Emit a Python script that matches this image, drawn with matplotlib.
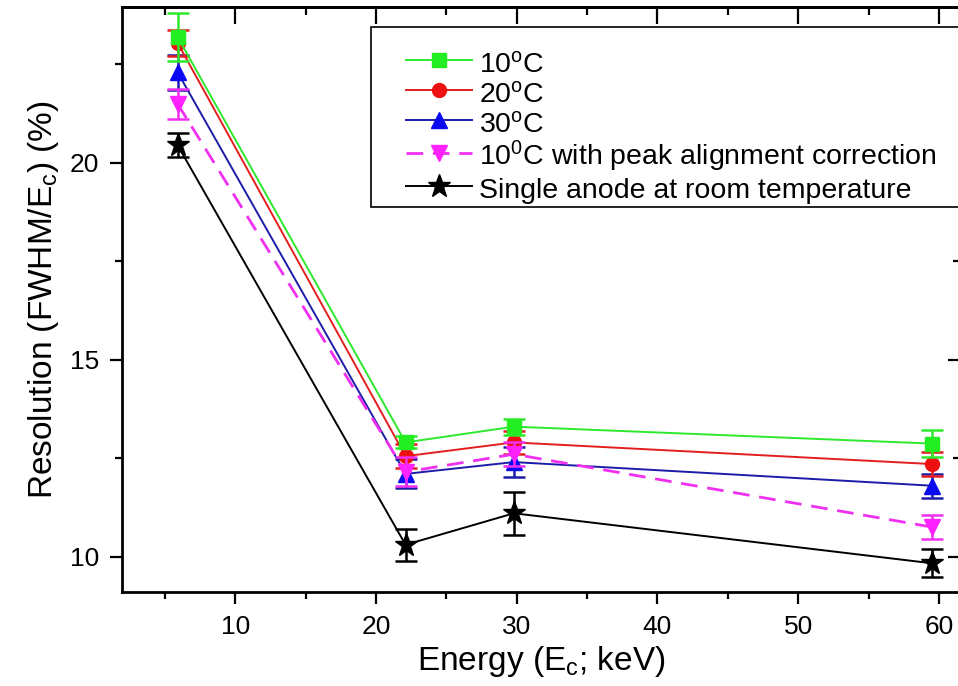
import matplotlib
matplotlib.use("Agg")
import matplotlib.pyplot as plt
from matplotlib.lines import Line2D
from matplotlib.patches import Rectangle

plt.rcParams['font.family'] = ['Liberation Sans', 'DejaVu Sans']
plt.rcParams['mathtext.fontset'] = 'custom'
plt.rcParams['mathtext.rm'] = 'Liberation Sans'
plt.rcParams['mathtext.it'] = 'Liberation Sans:italic'

energy = [5.9, 22.1, 29.8, 59.5]

res_10c = [23.2, 12.9, 13.3, 12.87]
err_10c = [0.6, 0.15, 0.2, 0.35]
res_20c = [23.05, 12.55, 12.9, 12.35]
err_20c = [0.33, 0.3, 0.3, 0.3]
res_30c = [22.3, 12.1, 12.4, 11.8]
err_30c = [0.45, 0.37, 0.38, 0.3]
res_10c_corr = [21.5, 12.15, 12.6, 10.75]
err_10c_corr = [0.38, 0.37, 0.3, 0.3]
res_single = [20.45, 10.3, 11.1, 9.83]
err_single = [0.3, 0.4, 0.55, 0.35]

labels = ['10$^{\\rm o}$C', '20$^{\\rm o}$C', '30$^{\\rm o}$C',
          '10$^{\\rm 0}$C with peak alignment correction',
          'Single anode at room temperature']

fig = plt.figure(figsize=(9.58, 6.86), dpi=100)
ax = fig.add_axes([122/958, 94/686, (960-122)/958, (592-7)/686])

# (values, errors, line colour, marker colour, marker, linestyle, lw, markersize, zorder)
series = [
    (res_10c, err_10c, '#2ee82e', '#22ee22', 's', '-', 1.4, 10, 5),
    (res_20c, err_20c, '#e41e1e', '#ee1111', 'o', '-', 1.4, 10, 4),
    (res_30c, err_30c, '#1c1ca8', '#0a0af0', '^', '-', 1.4, 11, 3),
    (res_10c_corr, err_10c_corr, '#f030f0', '#ff22ff', 'v', (0, (6, 3.5)), 2.0, 11, 6),
    (res_single, err_single, 'black', 'black', '*', '-', 1.4, 17, 1),
]
handles = []
for (y, e, c, mc, m, ls, lw, ms, z), lab in zip(series, labels):
    ax.errorbar(energy, y, yerr=e, color=c, marker=m, ls=ls, lw=lw,
                ms=ms, mfc=mc, mec=mc, capsize=8, capthick=1.8, elinewidth=1.8,
                ecolor=c, zorder=z)
    handles.append(Line2D([], [], color=c, marker=m, ls=ls, lw=lw, ms=ms,
                          mfc=mc, mec=mc, label=lab))

ax.set_xlim(1.95, 61.5)
ax.set_ylim(9.1, 23.96)
ax.set_xticks([10, 20, 30, 40, 50, 60])
ax.set_xticks([5, 15, 25, 35, 45, 55], minor=True)
ax.set_yticks([10, 15, 20])
ax.set_yticks([12.5, 17.5, 22.5], minor=True)
ax.tick_params(which='major', direction='out', length=8.5, width=1.6, labelsize=19, pad=8)
ax.tick_params(which='minor', direction='out', length=5, width=1.6)
for s in ax.spines.values():
    s.set_linewidth(2)

top = ax.secondary_xaxis('top')
top.set_xticks([10, 20, 30, 40, 50, 60])
top.set_xticks([5, 15, 25, 35, 45, 55], minor=True)
top.tick_params(which='major', direction='in', length=12, width=1.6, labeltop=False)
top.tick_params(which='minor', direction='in', length=6, width=1.6)
top.spines['top'].set_linewidth(2)
right = ax.secondary_yaxis('right')
right.set_yticks([10, 15, 20])
right.set_yticks([12.5, 17.5, 22.5], minor=True)
right.tick_params(which='major', direction='in', length=9, width=1.6, labelright=False)
right.tick_params(which='minor', direction='in', length=5, width=1.6)

ax.set_xlabel('Energy (E$_{\\rm c}$; keV)', fontsize=24, labelpad=4)
ax.set_ylabel('Resolution (FWHM/E$_{\\rm c}$) (%)', fontsize=24, labelpad=6)

# legend frame (Origin-style box reaching the right edge)
ax.add_patch(Rectangle((0.297, 0.658), 0.703, 0.308, transform=ax.transAxes,
                       fill=True, facecolor='white', edgecolor='black', lw=1.2,
                       zorder=9))
leg = ax.legend(handles=handles, loc='upper left', bbox_to_anchor=(0.339, 0.93),
                fontsize=20.5, frameon=False, handlelength=2.3, handleheight=1.2,
                handletextpad=0.25, labelspacing=0.0,
                borderpad=0, borderaxespad=0)
leg.set_zorder(10)

fig.savefig('out.png', dpi=100)
